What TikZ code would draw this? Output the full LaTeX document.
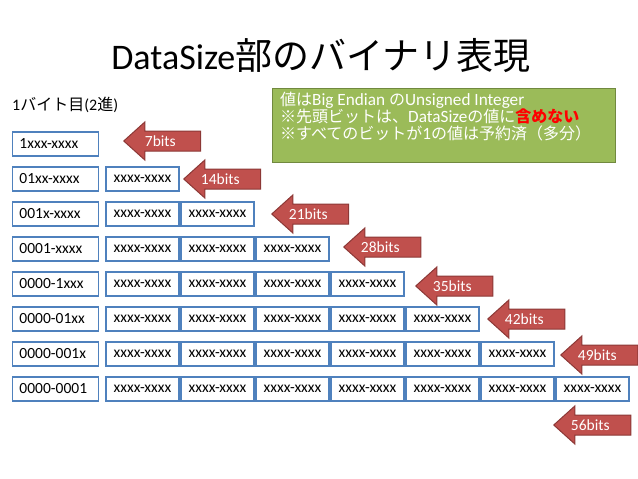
\documentclass[tikz,border=0pt]{standalone}
\usepackage{fontspec}
\setmainfont{Carlito}
\newfontfamily\jp{Noto Sans CJK JP}
\usetikzlibrary{shapes.arrows}
\usetikzlibrary{calc}
\definecolor{boxblue}{RGB}{79,129,189}
\definecolor{arrowred}{RGB}{192,80,77}
\definecolor{arrowdark}{RGB}{140,56,54}
\definecolor{notegreen}{RGB}{155,187,89}
\definecolor{notedark}{RGB}{113,137,63}
\definecolor{alertred}{RGB}{255,0,0}
\newcommand\notejp[1]{{\jp\fontsize{16}{17}\selectfont #1}}

\begin{document}
\begin{tikzpicture}
  [x=1pt,y=-1pt,
   first/.style={draw=boxblue,fill=white,line width=1.2pt,inner xsep=7pt,inner ysep=0pt,text width=72pt,align=left,minimum height=24pt,font=\fontsize{15.5}{18}\selectfont},
   byte/.style={draw=boxblue,fill=white,line width=1.2pt,inner sep=0pt,minimum width=73pt,minimum height=24pt,font=\fontsize{15.5}{18}\selectfont},
   bits/.style={single arrow,shape border rotate=180,draw=arrowdark,fill=arrowred,line width=1pt,minimum height=77pt,minimum width=37pt,single arrow head extend=9pt,single arrow tip angle=84,inner xsep=0pt,inner ysep=2.5pt,text height=11pt,text depth=3pt,anchor=tip},
   bitstext/.style={text=white,xshift=-7.5pt,inner sep=0pt,font=\fontsize{15.5}{18}\selectfont}]
  \useasboundingbox (0,0) rectangle (638,479);

  \node[anchor=base] (title) at (321,69) {\fontsize{36}{40}\selectfont DataSize{\jp\fontsize{37}{40}\selectfont 部のバイナリ表現}};
  \node[anchor=west,inner sep=0pt,font=\fontsize{16}{18}\selectfont] (byte) at (12,105) {1{\jp バイト目}(2{\jp 進})};

  \node[draw=notedark,fill=notegreen,line width=1.2pt,minimum width=343pt,minimum height=74pt,anchor=north west] (note) at (272,88) {};
  \node[anchor=north west,text=white,align=left,inner sep=0pt,font=\fontsize{17.2}{17}\selectfont] (notetxt) at ($(note.north west)+(8,4)$)
    {\notejp{値は}Big Endian \notejp{の}Unsigned Integer\\
     \notejp{※先頭ビットは、}DataSize\notejp{の値に}\notejp{\bfseries\color{alertred}含めない}\\
     \notejp{※すべてのビットが}1\notejp{の値は予約済（多分）}};

  % row 1
  \node[first] (10) at (55.5,144) {1xxx-xxxx};
  % row 2
  \node[first] (20) at (55.5,179) {01xx-xxxx};
  \node[byte] (21) at (142.5,179) {xxxx-xxxx};
  % row 3
  \node[first] (30) at (55.5,214) {001x-xxxx};
  \node[byte] (31) at (142.5,214) {xxxx-xxxx};
  \node[byte] (32) at (217.5,214) {xxxx-xxxx};
  % row 4
  \node[first] (40) at (55.5,249) {0001-xxxx};
  \node[byte] (41) at (142.5,249) {xxxx-xxxx};
  \node[byte] (42) at (217.5,249) {xxxx-xxxx};
  \node[byte] (43) at (292.5,249) {xxxx-xxxx};
  % row 5
  \node[first] (50) at (55.5,284) {0000-1xxx};
  \node[byte] (51) at (142.5,284) {xxxx-xxxx};
  \node[byte] (52) at (217.5,284) {xxxx-xxxx};
  \node[byte] (53) at (292.5,284) {xxxx-xxxx};
  \node[byte] (54) at (367.5,284) {xxxx-xxxx};
  % row 6
  \node[first] (60) at (55.5,319) {0000-01xx};
  \node[byte] (61) at (142.5,319) {xxxx-xxxx};
  \node[byte] (62) at (217.5,319) {xxxx-xxxx};
  \node[byte] (63) at (292.5,319) {xxxx-xxxx};
  \node[byte] (64) at (367.5,319) {xxxx-xxxx};
  \node[byte] (65) at (442.5,319) {xxxx-xxxx};
  % row 7
  \node[first] (70) at (55.5,354) {0000-001x};
  \node[byte] (71) at (142.5,354) {xxxx-xxxx};
  \node[byte] (72) at (217.5,354) {xxxx-xxxx};
  \node[byte] (73) at (292.5,354) {xxxx-xxxx};
  \node[byte] (74) at (367.5,354) {xxxx-xxxx};
  \node[byte] (75) at (442.5,354) {xxxx-xxxx};
  \node[byte] (76) at (517.5,354) {xxxx-xxxx};
  % row 8
  \node[first] (80) at (55.5,389) {0000-0001};
  \node[byte] (81) at (142.5,389) {xxxx-xxxx};
  \node[byte] (82) at (217.5,389) {xxxx-xxxx};
  \node[byte] (83) at (292.5,389) {xxxx-xxxx};
  \node[byte] (84) at (367.5,389) {xxxx-xxxx};
  \node[byte] (85) at (442.5,389) {xxxx-xxxx};
  \node[byte] (86) at (517.5,389) {xxxx-xxxx};
  \node[byte] (87) at (592.5,389) {xxxx-xxxx};

  % arrows
  \node[bits,label={[bitstext]center:7bits}] (a1) at (123,141) {};
  \node[bits,label={[bitstext]center:14bits}] (a2) at (183,179) {};
  \node[bits,label={[bitstext]center:21bits}] (a3) at (271,214) {};
  \node[bits,label={[bitstext]center:28bits}] (a4) at (343,247) {};
  \node[bits,label={[bitstext]center:35bits}] (a5) at (415,286) {};
  \node[bits,label={[bitstext]center:42bits}] (a6) at (487,319) {};
  \node[bits,label={[bitstext]center:49bits}] (a7) at (560,355) {};
  \node[bits,label={[bitstext]center:56bits}] (a8) at (553,425) {};
\end{tikzpicture}
\end{document}
